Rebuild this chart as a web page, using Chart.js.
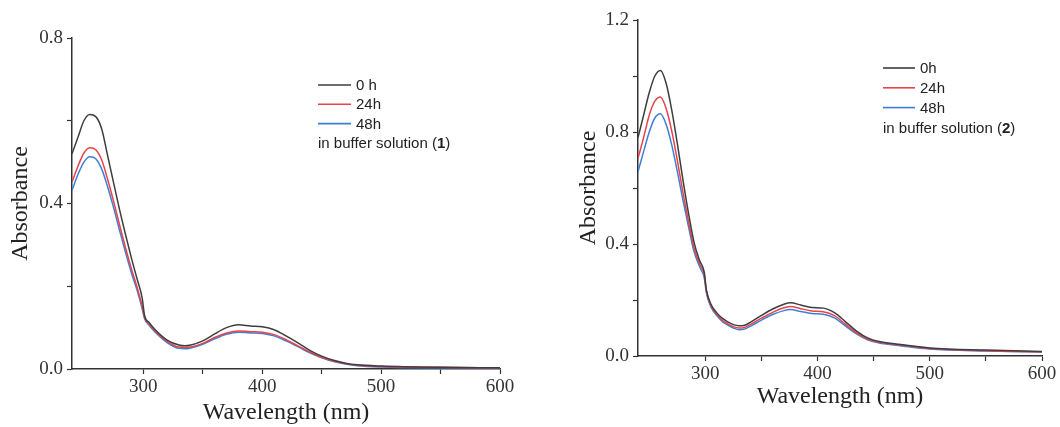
<!DOCTYPE html>
<html>
<head>
<meta charset="utf-8">
<script src="https://cdn.jsdelivr.net/npm/chart.js@4.4.1/dist/chart.umd.min.js"></script>
<style>
  body { margin: 0; background: #fff; }
  #wrap { position: relative; width: 1060px; height: 427px; }
  .box { position: absolute; top: 0; height: 427px; }
  #b1 { left: 0; width: 530px; }
  #b2 { left: 540px; width: 520px; }
</style>
</head>
<body>
<div id="wrap">
  <div class="box" id="b1"><canvas id="c1"></canvas></div>
  <div class="box" id="b2"><canvas id="c2"></canvas></div>
</div>
<script>
// spectra (1) - wavelength in nm, absorbance
const wl1 = [240,245,250,255,260,265,270,275,280,285,290,295,299,301,305,310,320,330,335,340,350,360,370,380,390,400,410,420,430,440,450,460,470,480,500,550,600];
const a1_0h  = [0.520,0.560,0.600,0.615,0.610,0.580,0.515,0.450,0.385,0.325,0.268,0.215,0.172,0.130,0.112,0.095,0.070,0.058,0.056,0.058,0.068,0.085,0.100,0.107,0.104,0.102,0.095,0.080,0.063,0.045,0.031,0.021,0.014,0.010,0.007,0.004,0.003];
const a1_24h = [0.452,0.490,0.522,0.535,0.530,0.505,0.458,0.405,0.348,0.293,0.242,0.195,0.152,0.125,0.108,0.092,0.067,0.053,0.052,0.053,0.062,0.076,0.087,0.092,0.090,0.089,0.083,0.071,0.056,0.041,0.028,0.019,0.013,0.009,0.006,0.004,0.003];
const a1_48h = [0.432,0.470,0.500,0.513,0.508,0.483,0.440,0.390,0.335,0.282,0.232,0.188,0.146,0.122,0.105,0.089,0.064,0.050,0.049,0.051,0.060,0.073,0.084,0.089,0.087,0.086,0.080,0.068,0.054,0.039,0.027,0.018,0.012,0.008,0.005,0.003,0.002];

// spectra (2)
const wl2 = [240,245,250,255,260,265,270,275,280,285,290,295,299,301,305,310,315,320,325,330,335,340,350,360,370,376,385,395,405,415,425,435,445,455,470,500,550,600];
const a2_0h  = [0.780,0.860,0.940,1.000,1.020,0.975,0.880,0.760,0.630,0.510,0.405,0.340,0.300,0.235,0.185,0.155,0.135,0.122,0.112,0.108,0.110,0.120,0.145,0.168,0.185,0.190,0.182,0.173,0.171,0.155,0.122,0.088,0.064,0.052,0.043,0.029,0.021,0.016];
const a2_24h = [0.706,0.780,0.860,0.910,0.925,0.885,0.805,0.700,0.585,0.480,0.385,0.328,0.290,0.230,0.180,0.150,0.128,0.115,0.105,0.100,0.102,0.112,0.135,0.156,0.172,0.177,0.169,0.161,0.158,0.144,0.113,0.082,0.060,0.049,0.041,0.027,0.019,0.015];
const a2_48h = [0.658,0.730,0.800,0.850,0.865,0.828,0.755,0.660,0.558,0.462,0.372,0.318,0.280,0.225,0.175,0.145,0.123,0.110,0.100,0.094,0.096,0.106,0.128,0.148,0.162,0.166,0.159,0.152,0.149,0.136,0.107,0.078,0.057,0.046,0.038,0.025,0.018,0.014];

const labels1 = ["0 h", "24h", "48h"];
const labels2 = ["0h", "24h", "48h"];
const colors = ["#3e3e3e", "#e8434a", "#3d7fd6"];
const axisColor = "#333";
const serif = "'Liberation Serif', 'Times New Roman', serif";

const pts = (xs, ys) => xs.map((x, i) => ({ x, y: ys[i] }));

// draws the small legend block inside the plot
const noteLegend = {
  id: "noteLegend",
  afterDraw(chart, args, o) {
    const c = chart.ctx;
    c.save();
    c.font = "15px 'Liberation Sans', Arial, sans-serif";
    c.textBaseline = "middle";
    chart.data.datasets.forEach((ds, i) => {
      const y = o.y + i * o.gap;
      c.strokeStyle = ds.borderColor;
      c.lineWidth = 1.6;
      c.beginPath();
      c.moveTo(o.x, y);
      c.lineTo(o.x + o.len, y);
      c.stroke();
      c.fillStyle = "#222";
      c.fillText(ds.label, o.x + o.len + 5, y + 1);
    });
    const y = o.y + 3 * o.gap + 1;
    let x = o.x;
    const parts = ["in buffer solution (", o.num, ")"];
    parts.forEach((p, i) => {
      c.font = (i === 1 ? "bold " : "") + "15px 'Liberation Sans', Arial, sans-serif";
      c.fillText(p, x, y);
      x += c.measureText(p).width;
    });
    c.restore();
  },
};

function makeChart(id, wl, series, labels, ymax, box, legend) {
  return new Chart(document.getElementById(id), {
    type: "line",
    data: {
      datasets: series.map((s, i) => ({
        label: labels[i],
        data: pts(wl, s),
        borderColor: colors[i],
        borderWidth: 1.5,
        pointRadius: 0,
        cubicInterpolationMode: "monotone",
      })),
    },
    options: {
      responsive: true,
      maintainAspectRatio: false,
      animation: false,
      layout: { padding: { top: box.top, right: box.right, left: 0, bottom: box.bottom } },
      plugins: { legend: { display: false }, tooltip: { enabled: false }, noteLegend: legend },
      scales: {
        x: {
          type: "linear",
          min: 240,
          max: 600,
          afterFit: (s) => { s.height = box.xh; },
          afterBuildTicks: (s) => { s.ticks = s.ticks.filter((t) => t.value % 50 === 0); },
          border: { color: axisColor, width: 1.5 },
          grid: { drawOnChartArea: false, tickLength: 5, color: axisColor, tickWidth: 1.2 },
          ticks: {
            stepSize: 50,
            autoSkip: false,
            maxRotation: 0,
            padding: 2,
            color: "#333",
            font: { family: serif, size: 19 },
            callback: (v) => (v % 100 === 0 ? v : ""),
          },
          title: {
            display: true,
            text: "Wavelength (nm)",
            color: "#222",
            padding: { top: 0, bottom: 0 },
            font: { family: serif, size: 24 },
          },
        },
        y: {
          min: 0,
          max: ymax,
          afterFit: (s) => { s.width = box.yw; },
          border: { color: axisColor, width: 1.5 },
          grid: { drawOnChartArea: false, tickLength: 5, color: axisColor, tickWidth: 1.2 },
          ticks: {
            stepSize: 0.2,
            autoSkip: false,
            padding: 4,
            color: "#333",
            font: { family: serif, size: 19 },
            callback: (v) => (Math.round(v * 10) % 4 === 0 ? v.toFixed(1) : ""),
          },
          title: {
            display: true,
            text: "Absorbance",
            color: "#222",
            padding: { top: box.ytpad, bottom: 0 },
            font: { family: serif, size: 24 },
          },
        },
      },
    },
    plugins: [noteLegend],
  });
}

makeChart("c1", wl1, [a1_0h, a1_24h, a1_48h], labels1, 0.8,
  { top: 38, right: 30, bottom: 0, xh: 58, yw: 72, ytpad: 6 },
  { x: 318, y: 85, gap: 19.3, len: 33, num: "1" });

makeChart("c2", wl2, [a2_0h, a2_24h, a2_48h], labels2, 1.2,
  { top: 20, right: 18, bottom: 16, xh: 55, yw: 98, ytpad: 34 },
  { x: 343, y: 68, gap: 19.8, len: 32, num: "2" });
</script>
</body>
</html>
